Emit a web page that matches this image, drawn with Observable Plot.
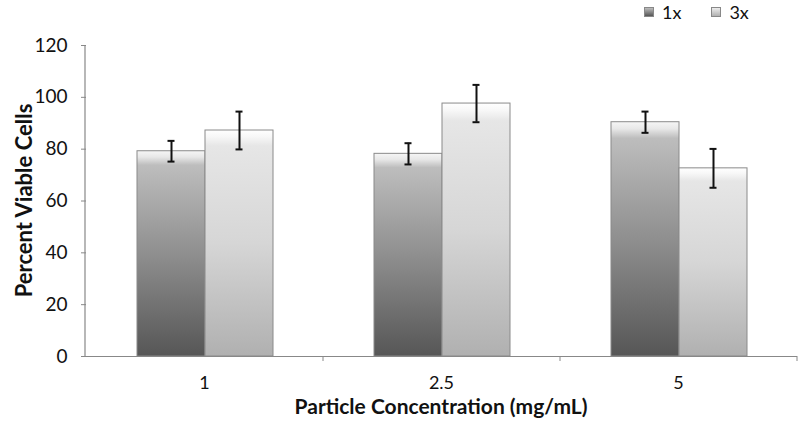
<!DOCTYPE html>
<html><head><meta charset="utf-8">
<script src="https://cdn.jsdelivr.net/npm/d3@7"></script>
<script src="https://cdn.jsdelivr.net/npm/@observablehq/plot@0.6"></script>
<style>
body{margin:0;background:#fff;}
#wrap{position:relative;width:800px;height:421px;font-family:Lato,"Open Sans",sans-serif;}
#legend{position:absolute;top:1px;left:644px;display:flex;gap:0;font-size:18px;color:#111;}
#legend .item{display:flex;align-items:center;margin-right:30px;}
#legend .sw{width:10px;height:10px;margin-right:8px;border:1px solid #888;box-sizing:border-box;}
</style></head><body>
<div id="wrap"><div id="legend"></div><div id="chart"></div></div>
<script>
const categories = ["1", "2.5", "5"];
const series = ["1x", "3x"];
const means1x = [79.2, 78.2, 90.4];
const err1x = [4.0, 4.1, 4.1];
const means3x = [87.2, 97.6, 72.6];
const err3x = [7.3, 7.2, 7.5];
const yTicks = [0, 20, 40, 60, 80, 100, 120];

const data = [];
categories.forEach((c, i) => {
  data.push({category: c, series: "1x", value: means1x[i], err: err1x[i]});
  data.push({category: c, series: "3x", value: means3x[i], err: err3x[i]});
});

const W = 800, H = 421, mL = 85, mR = 3;

const chart = Plot.plot({
  width: W, height: H,
  marginLeft: mL, marginRight: mR, marginTop: 45, marginBottom: 65,
  style: {fontFamily: "Lato, 'Open Sans', sans-serif", fontSize: "17px", color: "#111", background: "white"},
  fx: {domain: categories, padding: 0, axis: null},
  x: {domain: series, paddingInner: 0, paddingOuter: 0.74, axis: null},
  y: {domain: [0, 120], axis: null},
  color: {domain: series, range: ["url(#g1x)", "url(#g3x)"]},
  marks: [
    Plot.barY(data, {fx: "category", x: "series", y: "value", fill: "series", stroke: "#8a8a8a", strokeWidth: 1}),
    Plot.ruleX(data, {fx: "category", x: "series", y1: d => d.value - d.err, y2: d => d.value + d.err, stroke: "#111", strokeWidth: 2}),
    Plot.tickY(data, {fx: "category", x: "series", y: d => d.value - d.err, stroke: "#111", strokeWidth: 2, insetLeft: 30.5, insetRight: 30.5}),
    Plot.tickY(data, {fx: "category", x: "series", y: d => d.value + d.err, stroke: "#111", strokeWidth: 2, insetLeft: 30.5, insetRight: 30.5}),
    Plot.axisY({ticks: yTicks, tickSize: 5, tickPadding: 14, stroke: "#888", fontSize: 19, label: null, facetAnchor: "left"}),
    Plot.ruleY([0], {stroke: "#888", strokeWidth: 1.2})
  ]
});

const svg = d3.select(chart);
const defs = svg.insert("defs", ":first-child");
function grad(id, stops) {
  const g = defs.append("linearGradient").attr("id", id).attr("x1", 0).attr("y1", 1).attr("x2", 0).attr("y2", 0);
  stops.forEach(([o, c]) => g.append("stop").attr("offset", o).attr("stop-color", c));
}
grad("g1x", [[0, "#565656"], [0.5, "#8f8f8f"], [0.93, "#bdbdbd"], [0.97, "#e8e8e8"], [1, "#f6f6f6"]]);
grad("g3x", [[0, "#b0b0b0"], [0.5, "#d6d6d6"], [0.93, "#e6e6e6"], [0.97, "#f7f7f7"], [1, "#ffffff"]]);

document.getElementById("chart").appendChild(chart);

const fxScale = chart.scale("fx");
const yScale = chart.scale("y");
const y0 = yScale.apply(0);
const g = svg.append("g").attr("font-family", "Lato, 'Open Sans', sans-serif");
g.append("line").attr("x1", mL).attr("x2", mL).attr("y1", yScale.apply(120)).attr("y2", y0).attr("stroke", "#888").attr("stroke-width", 1.2);
categories.forEach((c) => {
  const left = fxScale.apply(c);
  const right = left + fxScale.bandwidth;
  g.append("line").attr("x1", right).attr("x2", right).attr("y1", y0).attr("y2", y0 + 5).attr("stroke", "#888");
  g.append("text").attr("x", left + fxScale.bandwidth / 2).attr("y", y0 + 33).attr("text-anchor", "middle").attr("font-size", 18).attr("fill", "#111").text(c);
});
g.append("text").attr("x", (mL + W - mR) / 2).attr("y", y0 + 58).attr("text-anchor", "middle").attr("font-size", 21).attr("font-weight", "bold").attr("fill", "#111").text("Particle Concentration (mg/mL)");
g.append("text").attr("transform", `translate(32,${(yScale.apply(120) + y0) / 2}) rotate(-90)`).attr("text-anchor", "middle").attr("font-size", 22).attr("font-weight", "bold").attr("fill", "#111").text("Percent Viable Cells");

const leg = d3.select("#legend");
const swatchBg = {"1x": "linear-gradient(to top,#565656,#bdbdbd)", "3x": "linear-gradient(to top,#b0b0b0,#ececec)"};
series.forEach(s => {
  const it = leg.append("div").attr("class", "item");
  it.append("div").attr("class", "sw").style("background", swatchBg[s]);
  it.append("span").text(s);
});
</script></body></html>
